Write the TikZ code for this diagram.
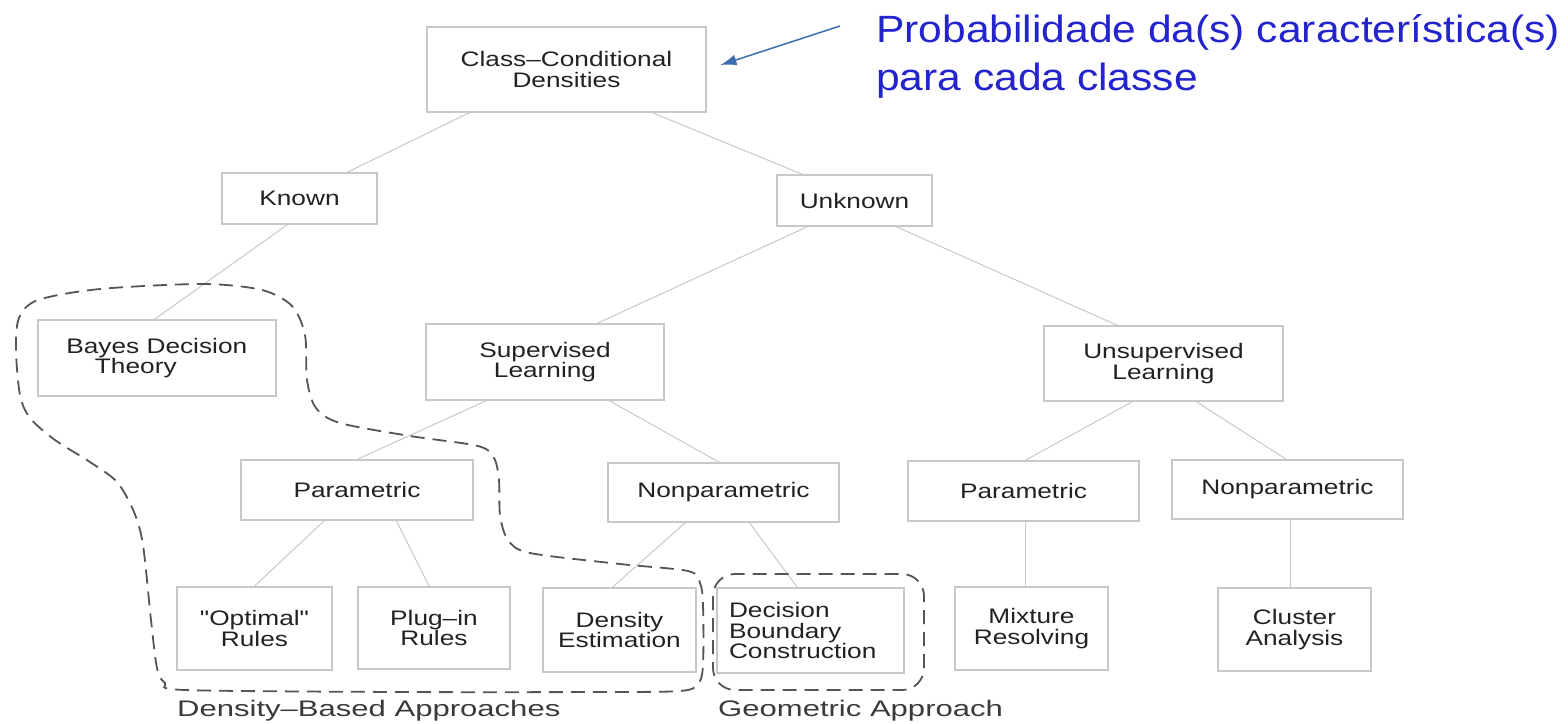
\documentclass[tikz,border=0pt]{standalone}
\usepackage{fontspec}
\setmainfont{Liberation Sans}
\newfontfamily\boxfont[FakeStretch=1.25]{Liberation Sans}
\newfontfamily\labfont[FakeStretch=1.38]{Liberation Sans}
\newfontfamily\bluefont[FakeStretch=1.12]{Liberation Sans}
\usetikzlibrary{arrows.meta}
\definecolor{boxline}{HTML}{C8C8C8}
\definecolor{txt}{HTML}{222222}
\definecolor{dashc}{HTML}{555555}
\definecolor{labc}{HTML}{3A3A3A}
\definecolor{bluet}{HTML}{2424CC}
\definecolor{arrowc}{HTML}{3E6DB0}
\begin{document}
\begin{tikzpicture}[x=1pt,y=-1pt,
  box/.style={draw=boxline, line width=1.4pt, inner sep=0pt, align=center, text=txt,
    font=\boxfont\fontsize{21}{20.5}\selectfont},
  conn/.style={draw=boxline, line width=1pt},
  grp/.style={draw=dashc, line width=1.8pt, dash pattern=on 14pt off 8pt},
  grplabel/.style={anchor=base west, inner sep=0pt, text=labc,
    font=\labfont\fontsize{22.5}{24}\selectfont},
  note/.style={anchor=base west, inner sep=0pt, align=left, text=bluet,
    font=\bluefont\fontsize{38}{48}\selectfont},
  arr/.style={draw=arrowc, line width=1.5pt, -{Latex[length=16pt,width=11pt]}}
]
\useasboundingbox (0,0) rectangle (1568,723);

% nodes
\node[box, minimum width=279pt, minimum height=85pt] (cc) at (566.5,69.5) {Class–Conditional\\Densities};
\node[box, minimum width=155pt, minimum height=51pt] (kn) at (299.5,198.5) {Known};
\node[box, minimum width=155pt, minimum height=51pt] (un) at (854.5,200.5) {Unknown};
\node[box, minimum width=238pt, minimum height=76pt] (bdt) at (156.8,358) {Bayes Decision\\Theory\rule{42pt}{0pt}};
\node[box, minimum width=238pt, minimum height=76pt] (sl) at (545,362) {Supervised\\Learning};
\node[box, minimum width=239pt, minimum height=75pt] (ul) at (1163.5,363.5) {Unsupervised\\Learning};
\node[box, minimum width=232pt, minimum height=60pt] (pl) at (357,490) {Parametric};
\node[box, minimum width=231pt, minimum height=59pt] (npm) at (723.5,492.5) {Nonparametric};
\node[box, minimum width=231pt, minimum height=60pt] (pr) at (1023.5,491) {Parametric};
\node[box, minimum width=231pt, minimum height=59pt] (npr) at (1287.5,489.5) {Nonparametric};
\node[box, minimum width=155pt, minimum height=83pt] (opt) at (254.5,628.5) {"Optimal"\\Rules};
\node[box, minimum width=152pt, minimum height=82pt] (plug) at (434,628) {Plug–in\\Rules};
\node[box, minimum width=153pt, minimum height=84pt] (de) at (619.5,630) {Density\\Estimation};
\node[box, align=left, inner xsep=12pt, text width=163pt, minimum height=85pt] (dbc) at (810.5,630.5) {Decision\\Boundary\\Construction};
\node[box, minimum width=153pt, minimum height=83pt] (mix) at (1031.5,628.5) {Mixture\\Resolving};
\node[box, minimum width=153pt, minimum height=83pt] (cla) at (1294.5,629.5) {Cluster\\Analysis};

% connectors
\draw[conn] ([xshift=43pt]cc.south west) -- ([xshift=126pt]kn.north west);
\draw[conn] ([xshift=226pt]cc.south west) -- ([xshift=26pt]un.north west);
\draw[conn] ([xshift=66pt]kn.south west) -- ([xshift=117.4pt]bdt.north west);
\draw[conn] ([xshift=31pt]un.south west) -- ([xshift=172pt]sl.north west);
\draw[conn] ([xshift=120pt]un.south west) -- ([xshift=74pt]ul.north west);
\draw[conn] ([xshift=61pt]sl.south west) -- ([xshift=117pt]pl.north west);
\draw[conn] ([xshift=184pt]sl.south west) -- ([xshift=112pt]npm.north west);
\draw[conn] ([xshift=89pt]ul.south west) -- ([xshift=118pt]pr.north west);
\draw[conn] ([xshift=153pt]ul.south west) -- ([xshift=115pt]npr.north west);
\draw[conn] ([xshift=84pt]pl.south west) -- ([xshift=78pt]opt.north west);
\draw[conn] ([xshift=156pt]pl.south west) -- ([xshift=72pt]plug.north west);
\draw[conn] ([xshift=78pt]npm.south west) -- ([xshift=70pt]de.north west);
\draw[conn] ([xshift=142pt]npm.south west) -- ([xshift=81pt]dbc.north west);
\draw[conn] ([xshift=118pt]pr.south west) -- ([xshift=71pt]mix.north west);
\draw[conn] ([xshift=119pt]npr.south west) -- ([xshift=73pt]cla.north west);

% dashed groups
\draw[grp] plot[smooth cycle, tension=0.5] coordinates {
 (203,284) (262,290) (292,306) (305,335) (307,380) (316,408) (340,423) (410,436)
 (478,446) (494,458) (499,480) (500,515) (508,540) (530,553) (620,564) (688,571)
 (700,583) (703,605) (703,665) (698,684) (680,691) (600,692) (400,692) (185,690)
 (165,683) (157,668) (151,620) (143,545) (134,512) (117,482) (90,462) (55,440)
 (30,418) (20,395) (16,350) (19,318) (38,300) (100,289)};
\draw[grp, rounded corners=22pt] (713,574) rectangle (924,690);

\node[grplabel] (dlab) at (177,716) {Density–Based Approaches};
\node[grplabel] (glab) at (718,716) {Geometric Approach};

% note
\node[note] (nt) at (876,90) {Probabilidade da(s) característica(s)\\para cada classe};
\coordinate (arrowstart) at (840,26);
\draw[arr, shorten >=14.5pt] (arrowstart) -- (cc.east);
\end{tikzpicture}
\end{document}
